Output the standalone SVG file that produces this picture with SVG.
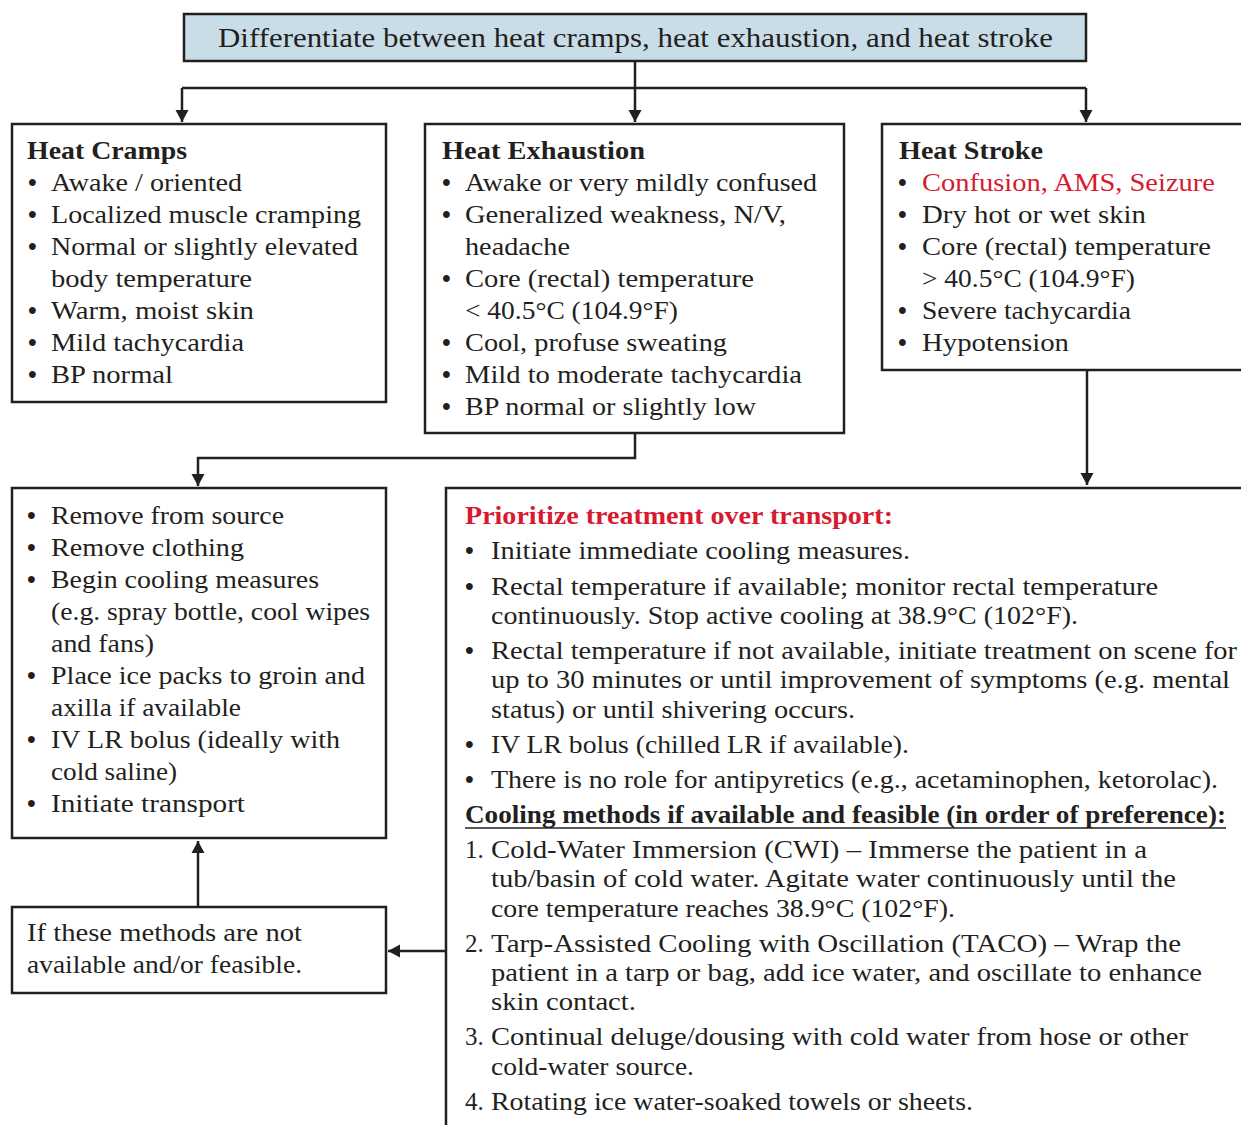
<svg xmlns="http://www.w3.org/2000/svg" width="1241" height="1125" viewBox="0 0 1241 1125">
  <style>
    .box { fill: #ffffff; stroke: #231f20; stroke-width: 2.5; }
    .title-box { fill: #c9dde8; stroke: #231f20; stroke-width: 2.5; }
    .wire { fill: none; stroke: #231f20; stroke-width: 2.5; }
    text { font-family: "Liberation Serif", "Times New Roman", serif; font-size: 25px; fill: #231f20; }
    .h { font-weight: bold; }
    .red { fill: #d71a30; }
    .title { font-size: 28px; }
    .dot { font-weight: bold; }
  </style>
  <defs>
    <marker id="arrow" markerUnits="userSpaceOnUse" markerWidth="13" markerHeight="14" refX="12" refY="7" orient="auto">
      <path d="M0,0.5 L12,7 L0,13.5 z" fill="#231f20"/>
    </marker>
  </defs>
  <rect width="1241" height="1125" fill="#ffffff"/>

  <!-- connectors -->
  <g id="connectors">
    <path class="wire" d="M182 88 H1086"/>
    <path class="wire" d="M182 88 V122" marker-end="url(#arrow)"/>
    <path class="wire" d="M635 61 V122" marker-end="url(#arrow)"/>
    <path class="wire" d="M1086 88 V122" marker-end="url(#arrow)"/>
    <path class="wire" d="M635 433 V458 H198 V486" marker-end="url(#arrow)"/>
    <path class="wire" d="M1087 370 V485" marker-end="url(#arrow)"/>
    <path class="wire" d="M446 951 H388" marker-end="url(#arrow)"/>
    <path class="wire" d="M198 907 V841" marker-end="url(#arrow)"/>
  </g>

  <!-- title -->
  <g id="title">
    <rect class="title-box" x="184" y="14" width="902" height="47"/>
    <text class="title" x="218" y="47" textLength="835" lengthAdjust="spacingAndGlyphs">Differentiate between heat cramps, heat exhaustion, and heat stroke</text>
  </g>

  <!-- heat cramps -->
  <g id="heat-cramps">
    <rect class="box" x="12" y="124" width="374" height="278"/>
    <text class="h" x="27" y="159" textLength="160" lengthAdjust="spacingAndGlyphs">Heat Cramps</text>
    <text class="dot" x="28" y="191">•</text><text x="51" y="191" textLength="191" lengthAdjust="spacingAndGlyphs">Awake / oriented</text>
    <text class="dot" x="28" y="223">•</text><text x="51" y="223" textLength="310" lengthAdjust="spacingAndGlyphs">Localized muscle cramping</text>
    <text class="dot" x="28" y="255">•</text><text x="51" y="255" textLength="307" lengthAdjust="spacingAndGlyphs">Normal or slightly elevated</text>
    <text x="51" y="287" textLength="201" lengthAdjust="spacingAndGlyphs">body temperature</text>
    <text class="dot" x="28" y="319">•</text><text x="51" y="319" textLength="203" lengthAdjust="spacingAndGlyphs">Warm, moist skin</text>
    <text class="dot" x="28" y="351">•</text><text x="51" y="351" textLength="193" lengthAdjust="spacingAndGlyphs">Mild tachycardia</text>
    <text class="dot" x="28" y="383">•</text><text x="51" y="383" textLength="122" lengthAdjust="spacingAndGlyphs">BP normal</text>
  </g>

  <!-- heat exhaustion -->
  <g id="heat-exhaustion">
    <rect class="box" x="425" y="124" width="419" height="309"/>
    <text class="h" x="442" y="159" textLength="203" lengthAdjust="spacingAndGlyphs">Heat Exhaustion</text>
    <text class="dot" x="442" y="191">•</text><text x="465" y="191" textLength="352" lengthAdjust="spacingAndGlyphs">Awake or very mildly confused</text>
    <text class="dot" x="442" y="223">•</text><text x="465" y="223" textLength="321" lengthAdjust="spacingAndGlyphs">Generalized weakness, N/V,</text>
    <text x="465" y="255" textLength="105" lengthAdjust="spacingAndGlyphs">headache</text>
    <text class="dot" x="442" y="287">•</text><text x="465" y="287" textLength="289" lengthAdjust="spacingAndGlyphs">Core (rectal) temperature</text>
    <text x="465" y="319" textLength="213" lengthAdjust="spacingAndGlyphs">&lt; 40.5°C (104.9°F)</text>
    <text class="dot" x="442" y="351">•</text><text x="465" y="351" textLength="262" lengthAdjust="spacingAndGlyphs">Cool, profuse sweating</text>
    <text class="dot" x="442" y="383">•</text><text x="465" y="383" textLength="337" lengthAdjust="spacingAndGlyphs">Mild to moderate tachycardia</text>
    <text class="dot" x="442" y="415">•</text><text x="465" y="415" textLength="291" lengthAdjust="spacingAndGlyphs">BP normal or slightly low</text>
  </g>

  <!-- heat stroke -->
  <g id="heat-stroke">
    <rect class="box" x="882" y="124" width="400" height="246"/>
    <text class="h" x="899" y="159" textLength="144" lengthAdjust="spacingAndGlyphs">Heat Stroke</text>
    <text class="dot" x="898" y="191">•</text><text class="red" x="922" y="191" textLength="293" lengthAdjust="spacingAndGlyphs">Confusion, AMS, Seizure</text>
    <text class="dot" x="898" y="223">•</text><text x="922" y="223" textLength="224" lengthAdjust="spacingAndGlyphs">Dry hot or wet skin</text>
    <text class="dot" x="898" y="255">•</text><text x="922" y="255" textLength="289" lengthAdjust="spacingAndGlyphs">Core (rectal) temperature</text>
    <text x="922" y="287" textLength="213" lengthAdjust="spacingAndGlyphs">&gt; 40.5°C (104.9°F)</text>
    <text class="dot" x="898" y="319">•</text><text x="922" y="319" textLength="209" lengthAdjust="spacingAndGlyphs">Severe tachycardia</text>
    <text class="dot" x="898" y="351">•</text><text x="922" y="351" textLength="147" lengthAdjust="spacingAndGlyphs">Hypotension</text>
  </g>

  <!-- field cooling steps -->
  <g id="basic-cooling">
    <rect class="box" x="12" y="488" width="374" height="350"/>
    <text class="dot" x="27" y="524">•</text><text x="51" y="524" textLength="233" lengthAdjust="spacingAndGlyphs">Remove from source</text>
    <text class="dot" x="27" y="556">•</text><text x="51" y="556" textLength="193" lengthAdjust="spacingAndGlyphs">Remove clothing</text>
    <text class="dot" x="27" y="588">•</text><text x="51" y="588" textLength="268" lengthAdjust="spacingAndGlyphs">Begin cooling measures</text>
    <text x="51" y="620" textLength="319" lengthAdjust="spacingAndGlyphs">(e.g. spray bottle, cool wipes</text>
    <text x="51" y="652" textLength="103" lengthAdjust="spacingAndGlyphs">and fans)</text>
    <text class="dot" x="27" y="684">•</text><text x="51" y="684" textLength="314" lengthAdjust="spacingAndGlyphs">Place ice packs to groin and</text>
    <text x="51" y="716" textLength="190" lengthAdjust="spacingAndGlyphs">axilla if available</text>
    <text class="dot" x="27" y="748">•</text><text x="51" y="748" textLength="289" lengthAdjust="spacingAndGlyphs">IV LR bolus (ideally with</text>
    <text x="51" y="780" textLength="126" lengthAdjust="spacingAndGlyphs">cold saline)</text>
    <text class="dot" x="27" y="812">•</text><text x="51" y="812" textLength="194" lengthAdjust="spacingAndGlyphs">Initiate transport</text>
  </g>

  <!-- fallback note -->
  <g id="fallback">
    <rect class="box" x="12" y="907" width="374" height="86"/>
    <text x="27" y="941" textLength="275" lengthAdjust="spacingAndGlyphs">If these methods are not</text>
    <text x="27" y="973" textLength="275" lengthAdjust="spacingAndGlyphs">available and/or feasible.</text>
  </g>

  <!-- heat stroke treatment -->
  <g id="stroke-treatment">
    <rect class="box" x="446" y="488" width="830" height="700"/>
    <text class="h red" x="465" y="524" textLength="428" lengthAdjust="spacingAndGlyphs">Prioritize treatment over transport:</text>
    <text class="dot" x="465" y="559">•</text><text x="491" y="559" textLength="419" lengthAdjust="spacingAndGlyphs">Initiate immediate cooling measures.</text>
    <text class="dot" x="465" y="595">•</text><text x="491" y="595" textLength="667" lengthAdjust="spacingAndGlyphs">Rectal temperature if available; monitor rectal temperature</text>
    <text x="491" y="624" textLength="587" lengthAdjust="spacingAndGlyphs">continuously. Stop active cooling at 38.9°C (102°F).</text>
    <text class="dot" x="465" y="659">•</text><text x="491" y="659" textLength="746" lengthAdjust="spacingAndGlyphs">Rectal temperature if not available, initiate treatment on scene for</text>
    <text x="491" y="688" textLength="739" lengthAdjust="spacingAndGlyphs">up to 30 minutes or until improvement of symptoms (e.g. mental</text>
    <text x="491" y="718" textLength="364" lengthAdjust="spacingAndGlyphs">status) or until shivering occurs.</text>
    <text class="dot" x="465" y="753">•</text><text x="491" y="753" textLength="418" lengthAdjust="spacingAndGlyphs">IV LR bolus (chilled LR if available).</text>
    <text class="dot" x="465" y="788">•</text><text x="491" y="788" textLength="727" lengthAdjust="spacingAndGlyphs">There is no role for antipyretics (e.g., acetaminophen, ketorolac).</text>
    <text class="h" x="465" y="823" textLength="761" lengthAdjust="spacingAndGlyphs">Cooling methods if available and feasible (in order of preference):</text>
    <line x1="465" y1="828" x2="1226" y2="828" stroke="#231f20" stroke-width="1.5"/>
    <text x="465" y="858">1.</text><text x="491" y="858" textLength="656" lengthAdjust="spacingAndGlyphs">Cold-Water Immersion (CWI) – Immerse the patient in a</text>
    <text x="491" y="887" textLength="685" lengthAdjust="spacingAndGlyphs">tub/basin of cold water. Agitate water continuously until the</text>
    <text x="491" y="917" textLength="464" lengthAdjust="spacingAndGlyphs">core temperature reaches 38.9°C (102°F).</text>
    <text x="465" y="952">2.</text><text x="491" y="952" textLength="690" lengthAdjust="spacingAndGlyphs">Tarp-Assisted Cooling with Oscillation (TACO) – Wrap the</text>
    <text x="491" y="981" textLength="711" lengthAdjust="spacingAndGlyphs">patient in a tarp or bag, add ice water, and oscillate to enhance</text>
    <text x="491" y="1010" textLength="145" lengthAdjust="spacingAndGlyphs">skin contact.</text>
    <text x="465" y="1045">3.</text><text x="491" y="1045" textLength="697" lengthAdjust="spacingAndGlyphs">Continual deluge/dousing with cold water from hose or other</text>
    <text x="491" y="1075" textLength="203" lengthAdjust="spacingAndGlyphs">cold-water source.</text>
    <text x="465" y="1110">4.</text><text x="491" y="1110" textLength="482" lengthAdjust="spacingAndGlyphs">Rotating ice water-soaked towels or sheets.</text>
  </g>
</svg>
